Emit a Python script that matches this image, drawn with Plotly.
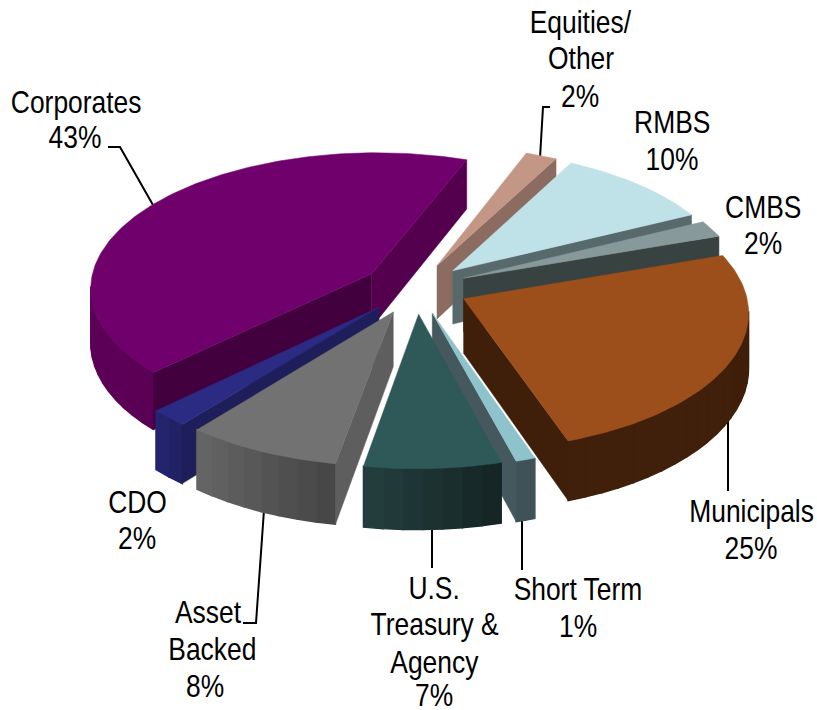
import numpy as np
import plotly.graph_objects as go

# ---- data ----
categories = ["Municipals", "Short Term", "U.S. Treasury & Agency", "Asset Backed", "CDO",
              "Corporates", "Equities/Other", "RMBS", "CMBS"]
shares = [25, 1, 7, 8, 2, 43, 2, 10, 2]
pull = [0.1863, 0.1928, 0.1927, 0.1936, 0.1927, 0.1913, 0.1812, 0.1825, 0.1827]

# ---- styles (top, outer wall start, outer wall end, start-edge wall, end-edge wall) ----
top_colors = ["#9C4F1A", "#8FC3CB", "#2F5858", "#727272", "#2B2B83", "#70006C", "#C49686", "#BFE1E8", "#87999A"]
arc_from = ["#3F1F0A", "#3E5258", "#152625", "#474747", "#212165", "#5A0055", "#8C6C60", "#58696C", "#384240"]
arc_to = ["#40200B", "#3E5258", "#233D3D", "#646464", "#24246E", "#66005F", "#8C6C60", "#58696C", "#384240"]
wall_start = ["#3F1F0A", "#3F5358", "#263F3F", "#5E5E5E", "#1E1E5A", "#42003F", "#8C6C60", "#58696C", "#384240"]
wall_end = ["#3F1F0A", "#44585D", "#263F3F", "#5E5E5E", "#1E1E5A", "#55004F", "#8C6C60", "#58696C", "#384240"]
draw_order = [5, 6, 7, 8, 4, 3, 0, 1, 2]

labels = [
    ("Corporates", 76, 102), ("43%", 75, 137),
    ("Equities/", 580, 22), ("Other", 581, 58), ("2%", 580, 96),
    ("RMBS", 672, 122), ("10%", 672, 159),
    ("CMBS", 763, 207), ("2%", 763, 243),
    ("Municipals", 751, 511), ("25%", 751, 548),
    ("Short Term", 578, 589), ("1%", 578, 626),
    ("U.S.", 434, 588), ("Treasury &", 434, 624), ("Agency", 434, 662), ("7%", 434, 695),
    ("Asset", 208, 612), ("Backed", 212, 649), ("8%", 205, 686),
    ("CDO", 137, 502), ("2%", 137, 538),
]
leaders = [
    ([108, 120, 153], [147, 147, 205]),
    ([550, 543, 540], [107, 107, 158]),
    ([728, 728], [415, 491]),
    ([522, 522], [515, 570]),
    ([432, 432], [525, 568]),
    ([264, 256, 243], [510, 623, 623]),
]

# ---- projection of the tilted pie ----
O = (416.2, 287.7)
M = (264.9, 95.56, -46.49, 126.6)
K = (0.03316, -0.08791)
T0 = 0.01958
DEPTH = 54.0


def project(x, y, z=0.0):
    w = 1 + K[0] * x + K[1] * y
    return O[0] + (M[0] * x + M[1] * y) / w, O[1] + (M[2] * x + M[3] * y + DEPTH * z) / w


def mix(a, b, f):
    ca = [int(a[i:i + 2], 16) for i in (1, 3, 5)]
    cb = [int(b[i:i + 2], 16) for i in (1, 3, 5)]
    return "rgb(%d,%d,%d)" % tuple(round(p + (q - p) * f) for p, q in zip(ca, cb))


fig = go.Figure()


def poly(xs, ys, color, lw=0.5):
    fig.add_trace(go.Scatter(x=list(xs), y=list(ys), mode="lines", fill="toself", fillcolor=color,
                             line=dict(color=color, width=lw), hoverinfo="skip", showlegend=False))


for lx, ly in leaders:
    fig.add_trace(go.Scatter(x=lx, y=ly, mode="lines", line=dict(color="black", width=2),
                             hoverinfo="skip", showlegend=False))

edges = T0 + np.concatenate([[0], np.cumsum(shares)]) / sum(shares) * 2 * np.pi

for i in draw_order:
    a, b = edges[i], edges[i + 1]
    mid = (a + b) / 2
    ax, ay = pull[i] * np.cos(mid), pull[i] * np.sin(mid)
    n = max(2, int(round((b - a) / np.radians(3.5))))
    tt = np.linspace(a, b, n + 1)
    rx, ry = ax + np.cos(tt), ay + np.sin(tt)
    # outer wall strips
    for j in range(n):
        x0, y0 = project(rx[j], ry[j])
        x1, y1 = project(rx[j + 1], ry[j + 1])
        if x1 - x0 < 0:
            x2, y2 = project(rx[j + 1], ry[j + 1], 1)
            x3, y3 = project(rx[j], ry[j], 1)
            poly([x0, x1, x2, x3, x0], [y0, y1, y2, y3, y0], mix(arc_from[i], arc_to[i], j / max(1, n - 1)), 1.4)
    # radial walls
    for (px, py), color, is_start in (((rx[0], ry[0]), wall_start[i], True), ((rx[-1], ry[-1]), wall_end[i], False)):
        x0, y0 = project(ax, ay)
        x1, y1 = project(px, py)
        if (x1 - x0 if is_start else x0 - x1) < 0:
            x2, y2 = project(px, py, 1)
            x3, y3 = project(ax, ay, 1)
            poly([x0, x1, x2, x3, x0], [y0, y1, y2, y3, y0], color)
    # top face
    fine = np.linspace(a, b, max(3, int((b - a) / np.radians(1))))
    tx, ty = project(np.r_[ax, ax + np.cos(fine), ax], np.r_[ay, ay + np.sin(fine), ay])
    poly(tx, ty, top_colors[i])

fig.update_layout(
    width=817, height=710, margin=dict(l=0, r=0, t=0, b=0), showlegend=False,
    paper_bgcolor="white", plot_bgcolor="white",
    xaxis=dict(range=[0, 817], visible=False, fixedrange=True),
    yaxis=dict(range=[710, 0], visible=False, fixedrange=True),
    annotations=[dict(x=x, y=y, text=t, showarrow=False, xanchor="center", yanchor="middle",
                      font=dict(family="Liberation Sans, Arial", size=32, color="black"))
                 for t, x, y in labels],
)
# The reference type is a condensed Arial: narrow each label horizontally about its own centre.
condense = """
document.body.style.margin='0';
function condense(){
  document.querySelectorAll('.annotation-text').forEach(function(t){
    if(t.dataset.cond) return;
    var b=t.getBBox();
    if(!b.width) return;
    var c=b.x+b.width/2;
    t.setAttribute('transform','translate('+c+',0) scale(0.825,1) translate('+(-c)+',0)');
    t.dataset.cond='1';
  });
}
condense();
requestAnimationFrame(condense);
setTimeout(condense,50);
"""
fig.write_html("out.html", config={"displayModeBar": False}, post_script=condense)
